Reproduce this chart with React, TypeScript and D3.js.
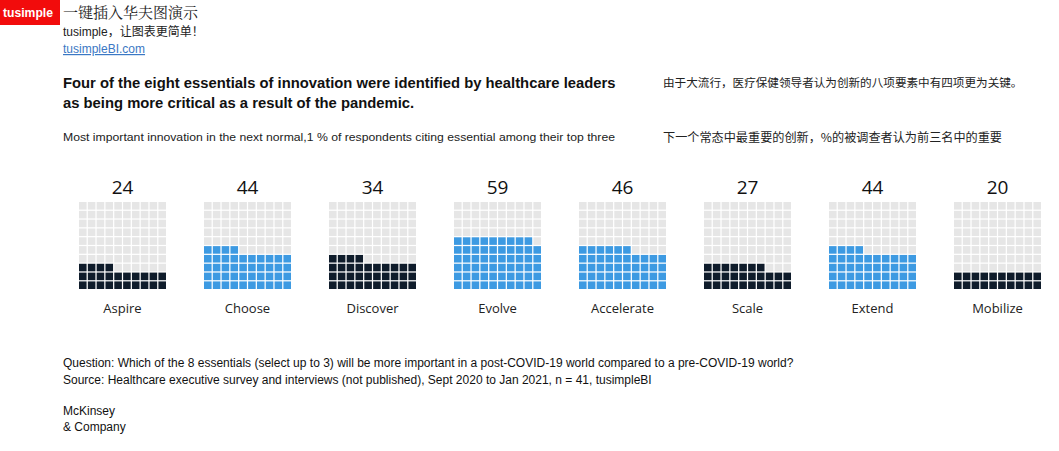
import * as d3 from 'd3';

// essentials, % of respondents citing them among their top three
const categories = ['Aspire', 'Choose', 'Discover', 'Evolve', 'Accelerate', 'Scale', 'Extend', 'Mobilize'];
const values = [24, 44, 34, 59, 46, 27, 44, 20];
const moreCritical = ['Choose', 'Evolve', 'Accelerate', 'Extend'];

const titleLines = [
    'Four of the eight essentials of innovation were identified by healthcare leaders',
    'as being more critical as a result of the pandemic.',
];
const subtitle = 'Most important innovation in the next normal,1 % of respondents citing essential among their top three';
const titleZh = '由于大流行，医疗保健领导者认为创新的八项要素中有四项更为关键。';
const subtitleZh = '下一个常态中最重要的创新，%的被调查者认为前三名中的重要';
const footLines = [
    'Question: Which of the 8 essentials (select up to 3) will be more important in a post-COVID-19 world compared to a pre-COVID-19 world?',
    'Source: Healthcare executive survey and interviews (not published), Sept 2020 to Jan 2021, n = 41, tusimpleBI',
];

const W = 1059;
const H = 451;
const GRID = 10;

export default function App() {
    // panel positions
    const x = d3.scaleBand<string>()
        .domain(categories)
        .range([79, 1041])
        .paddingInner(0.304)
        .paddingOuter(0);
    const size = x.bandwidth();

    // cells inside a panel, row 0 at the bottom
    const cx = d3.scaleBand<number>().domain(d3.range(GRID)).range([0, size]).paddingInner(0.14);
    const cy = d3.scaleBand<number>().domain(d3.range(GRID)).range([size, 0]).paddingInner(0.14);

    const gridTop = 202;
    const sans = '"Liberation Sans", Arial, sans-serif';
    const uiFont = '"Open Sans", "Noto Sans", sans-serif';
    const cjk = '"Noto Sans CJK SC", sans-serif';

    return (
        <svg width={W} height={H} style={{ position: 'absolute', left: 0, top: 0, background: '#fff' }}>
            {/* header */}
            <rect x={0} y={0} width={60} height={25} fill="#f20c0c" />
            <text x={3} y={17} fill="#fff" fontFamily={sans} fontWeight="bold" fontSize={12.5}
                textLength={50} lengthAdjust="spacingAndGlyphs">tusimple</text>
            <text x={63} y={18} fontFamily='"Noto Serif CJK SC", "Noto Sans CJK SC", serif' fontSize={15} fill="#222">一键插入华夫图演示</text>
            <text x={63} y={36} fontFamily={'"Liberation Sans", "Noto Sans CJK SC", sans-serif'} fontSize={12} fill="#222">tusimple，让图表更简单！</text>
            <text x={63} y={53} fontFamily={sans} fontSize={12} fill="#3b78c4" textDecoration="underline">tusimpleBI.com</text>

            {/* titles */}
            {titleLines.map((t, i) => (
                <text key={t} x={63} y={88 + i * 20} fontFamily={sans} fontWeight="bold" fontSize={14.8} fill="#111">{t}</text>
            ))}
            <text x={63} y={141} fontFamily={sans} fontSize={11} fill="#222"
                textLength={552} lengthAdjust="spacingAndGlyphs">{subtitle}</text>
            <text x={663} y={87} fontFamily={cjk} fontSize={11.6} fill="#222">{titleZh}</text>
            <text x={663} y={142} fontFamily={cjk} fontSize={12} fill="#222"
                textLength={339} lengthAdjust="spacingAndGlyphs">{subtitleZh}</text>

            {/* waffles */}
            {categories.map((c, k) => {
                const v = values[k];
                const fill = moreCritical.includes(c) ? '#3d9ae2' : '#0f1c2b';
                return (
                    <g key={c} transform={`translate(${x(c)},${gridTop})`}>
                        <text x={size / 2} y={-8} textAnchor="middle" fontFamily={uiFont} fontSize={19} fill="#111">{v}</text>
                        {d3.range(GRID * GRID).map(i => {
                            const row = Math.floor(i / GRID);
                            const col = i % GRID;
                            return (
                                <rect key={i}
                                    x={cx(col)}
                                    y={cy(row)}
                                    width={cx.bandwidth()}
                                    height={cy.bandwidth()}
                                    fill={i < v ? fill : '#e6e6e6'} />
                            );
                        })}
                        <text x={size / 2} y={size + 24} textAnchor="middle" fontFamily={uiFont} fontSize={13} fill="#222">{c}</text>
                    </g>
                );
            })}

            {/* footnotes */}
            {footLines.map((t, i) => (
                <text key={t} x={63} y={367 + i * 17} fontFamily={sans} fontSize={12} fill="#111">{t}</text>
            ))}
            <text x={63} y={415} fontFamily={sans} fontSize={12} fill="#111">McKinsey</text>
            <text x={63} y={431} fontFamily={sans} fontSize={12} fill="#111">&amp; Company</text>
        </svg>
    );
}
